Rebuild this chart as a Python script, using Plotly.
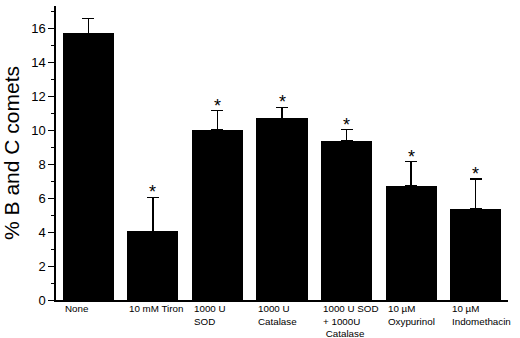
import plotly.graph_objects as go

categories = ["None", "10 mM Tiron", "1000 U<br>SOD", "1000 U<br>Catalase",
              "1000 U SOD<br>+ 1000U<br> Catalase", "10 µM<br>Oxypurinol", "10 µM<br>Indomethacin"]
values = [15.7, 4.05, 10.0, 10.7, 9.35, 6.7, 5.37]
errors = [0.88, 2.0, 1.15, 0.63, 0.68, 1.43, 1.75]
significant = [False, True, True, True, True, True, True]
ytick_vals = [0, 2, 4, 6, 8, 10, 12, 14, 16]

xpos = list(range(len(categories)))
bar_width = 0.79

fig = go.Figure()
fig.add_trace(go.Bar(
    x=xpos, y=values, width=bar_width,
    marker=dict(color="black", line=dict(width=0)),
    error_y=dict(type="data", symmetric=False, array=errors,
                 arrayminus=[0] * len(errors), color="black",
                 thickness=1.3, width=6),
))

annotations = []
for i, cat in enumerate(categories):
    annotations.append(dict(
        x=i - bar_width / 2, y=0, xref="x", yref="y", text=cat,
        showarrow=False, xanchor="left", yanchor="top", align="left",
        yshift=-1, font=dict(family="Liberation Sans, Arial", size=9.8, color="black"),
    ))
    if significant[i]:
        annotations.append(dict(
            x=i, y=values[i] + errors[i], xref="x", yref="y", text="*",
            showarrow=False, xanchor="center", yanchor="bottom",
            yshift=-7, font=dict(family="Liberation Sans, Arial", size=18, color="black"),
        ))

fig.update_layout(
    width=520, height=338,
    margin=dict(l=56, r=12, t=6, b=38, autoexpand=False),
    paper_bgcolor="white", plot_bgcolor="white",
    showlegend=False,
    bargap=0,
    annotations=annotations,
    xaxis=dict(range=[-0.5, 6.5], showticklabels=False, ticks="",
               showline=True, linecolor="black", linewidth=1.5,
               showgrid=False, zeroline=False, fixedrange=True, automargin=False),
    yaxis=dict(range=[0, 17.3], tickvals=ytick_vals, ticks="outside",
               ticklen=6, tickwidth=1.3, tickcolor="black", automargin=False,
               minor=dict(dtick=1, ticks="outside", ticklen=3, tickwidth=1.1, tickcolor="black"),
               showline=True, linecolor="black", linewidth=1.5,
               showgrid=False, zeroline=False,
               tickfont=dict(family="Liberation Sans, Arial", size=13, color="black"),
               title=dict(text="% B and C comets", standoff=8,
                          font=dict(family="Liberation Sans, Arial", size=21, color="black"))),
)

fig.write_html("out.html", config={"displayModeBar": False},
               post_script="document.body.style.margin='0';")
